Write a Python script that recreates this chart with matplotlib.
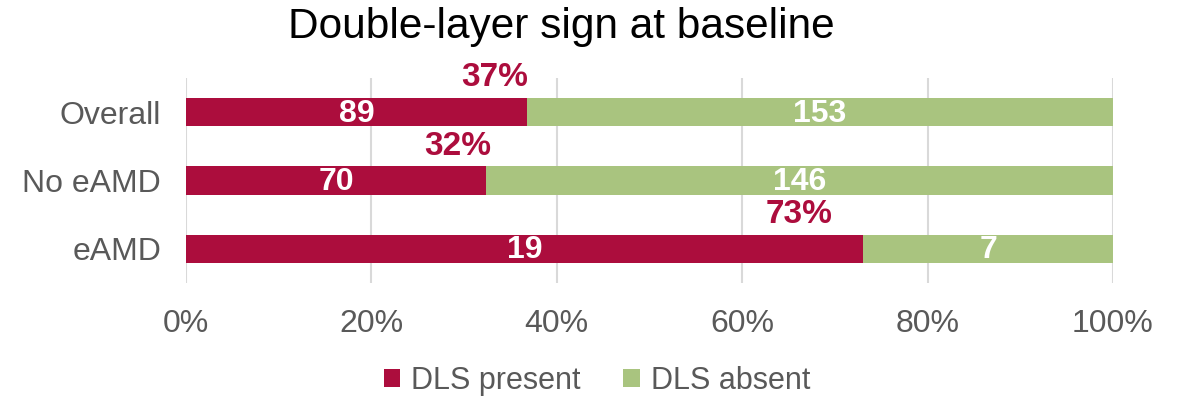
import matplotlib
matplotlib.use("Agg")
import matplotlib.pyplot as plt
import numpy as np

categories = ["Overall", "No eAMD", "eAMD"]
dls_present = [89, 70, 19]
dls_absent = [153, 146, 7]
xticks = [0, 20, 40, 60, 80, 100]
xtick_labels = ["0%", "20%", "40%", "60%", "80%", "100%"]

RED = "#AC0D3D"
GREEN = "#A9C47F"
GRAY = "#595959"

plt.rcParams["font.family"] = ["Liberation Sans", "DejaVu Sans"]

fig = plt.figure(figsize=(11.8, 3.99), dpi=100)
ax = fig.add_axes([186/1180, 1-283/399, (1113-186)/1180, 205/399])

present = np.array(dls_present, float)
absent = np.array(dls_absent, float)
total = present + absent
p_pct = present / total * 100
a_pct = absent / total * 100
y = np.arange(len(categories))
h = 0.41

ax.barh(y, p_pct, height=h, color=RED, label="DLS present", zorder=3)
ax.barh(y, a_pct, left=p_pct, height=h, color=GREEN, label="DLS absent", zorder=3)

for i in range(len(categories)):
    ax.text(p_pct[i]/2, y[i]+0.02, f"{int(present[i])}", ha="center", va="center",
            color="white", fontsize=23, fontweight="bold", zorder=4)
    ax.text(p_pct[i] + a_pct[i]/2, y[i]+0.02, f"{int(absent[i])}", ha="center", va="center",
            color="white", fontsize=23, fontweight="bold", zorder=4)
    ax.text(p_pct[i]*0.905, y[i]-0.5, f"{p_pct[i]:.0f}%", ha="center", va="center",
            color=RED, fontsize=24, fontweight="bold", zorder=4)

ax.set_xlim(0, 100)
ax.set_ylim(len(categories)-0.5, -0.5)
ax.set_yticks(y)
ax.set_yticklabels(categories, fontsize=23, color=GRAY)
ax.set_xticks(xticks)
ax.set_xticklabels(xtick_labels, fontsize=23, color=GRAY)
ax.tick_params(axis="both", length=0)
ax.tick_params(axis="y", pad=18)
ax.tick_params(axis="x", pad=19)
ax.xaxis.grid(True, color="#D9D9D9", linewidth=1.5, zorder=0)
for s in ax.spines.values():
    s.set_visible(False)

fig.text(561/1180, 1-38/399, "Double-layer sign at baseline", ha="center", va="baseline",
         fontsize=30.5, color="black")

fig.legend(loc="center", bbox_to_anchor=(597/1180, 1-381/399), ncol=2, frameon=False,
           fontsize=22, handlelength=0.55, handleheight=0.55, handletextpad=0.35,
           columnspacing=1.4, labelcolor=GRAY)

fig.savefig("out.png", dpi=100)
